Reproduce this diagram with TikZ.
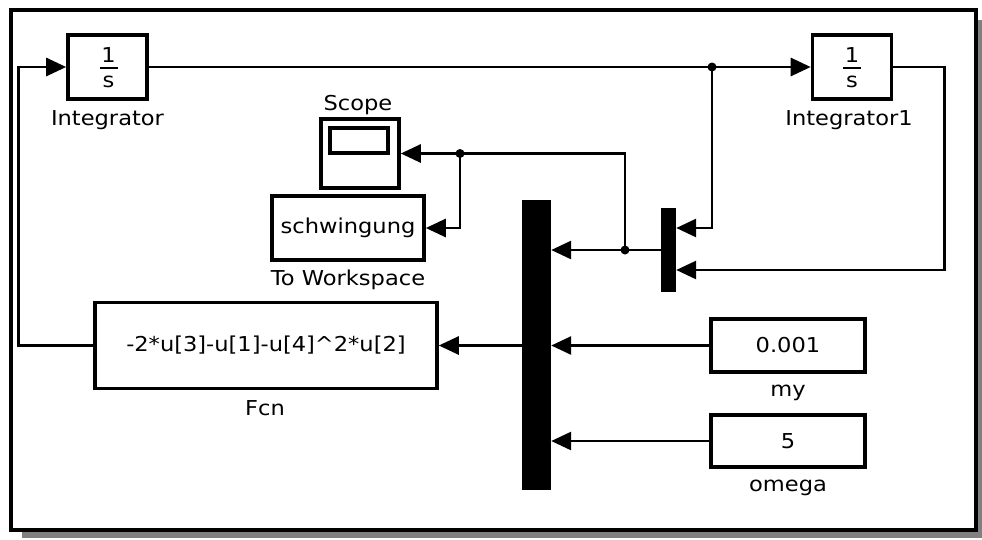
\documentclass[tikz,border=0pt]{standalone}
\usepackage{fontspec}
\setmainfont{DejaVu Sans}[FakeStretch=1.1]
\usetikzlibrary{arrows.meta}
\begin{document}
\begin{tikzpicture}[x=1pt,y=-1pt,
  txt/.style={inner sep=0pt, font=\fontsize{20.5}{24}\selectfont},
  blk/.style={draw, line width=3.6pt, fill=white, inner sep=0pt, font=\fontsize{20.5}{24}\selectfont},
  muxbar/.style={draw=none, fill=black, inner sep=0pt},
  wire/.style={line width=2.8pt, -{Triangle[length=20pt,width=18pt]}},
  plainwire/.style={line width=2.8pt},
  jdot/.style={circle, fill=black, inner sep=0pt, minimum size=9pt},
]
\useasboundingbox (0,0) rectangle (982,539);
% frame with shadow
\fill[black!50] (22,20) rectangle (982,538);
\draw[line width=4pt, fill=white] (11,10) rectangle (975.5,530);

% blocks
\node[blk, minimum width=79pt, minimum height=64pt] (int1) at (107.5,67) {};
\node[txt] (int1num) at (108.5,55) {1};
\node[txt] (int1den) at (108.5,82) {s};
\draw[line width=2.4pt] (99.5,68) -- (117.5,68);
\node[txt] (int1l) at (107.5,120) {Integrator};

\node[blk, minimum width=79pt, minimum height=64pt] (int2) at (852,67) {};
\node[txt] (int2num) at (852,55) {1};
\node[txt] (int2den) at (852,82) {s};
\draw[line width=2.4pt] (843,68) -- (861,68);
\node[txt] (int2l) at (849,120) {Integrator1};

\node[blk, minimum width=78pt, minimum height=69pt] (scope) at (360,153.5) {};
\draw[line width=3.4pt] (330,128) rectangle (388,153);
\node[txt] (scopel) at (358,105) {Scope};

\node[blk, minimum width=152pt, minimum height=64pt] (tows) at (348,228) {schwingung};
\node[txt] (towsl) at (348,280) {To Workspace};

\node[muxbar, minimum width=15pt, minimum height=84pt] (smux) at (668.5,250) {};
\node[muxbar, minimum width=29pt, minimum height=290pt] (bmux) at (536.5,345) {};

\node[blk, minimum width=342pt, minimum height=86pt] (fcn) at (266,345.5) {-2*u[3]-u[1]-u[4]\^{}2*u[2]};
\node[txt] (fcnl) at (265,408) {Fcn};

\node[blk, minimum width=154pt, minimum height=53pt] (my) at (788,345.5) {0.001};
\node[txt] (myl) at (788,393) {my};

\node[blk, minimum width=154pt, minimum height=52pt] (omega) at (788,441) {5};
\node[txt] (omegal) at (788,488) {omega};

% junctions
\node[jdot] (j1) at (712,67) {};
\node[jdot] (j2) at (625,250) {};
\node[jdot] (j3) at (460,153.5) {};

% connectors
\draw[wire] (int1.east) -- (int2.west);
\draw[wire] (j1.center) |- ([yshift=22pt]smux.east);
\draw[wire] (int2.east) -- ++(51,0) |- ([yshift=-20pt]smux.east);
\draw[wire] (smux.west) -- (smux.west -| bmux.east);
\draw[plainwire] (j2.center) |- (j3.center);
\draw[wire] (j3.center) -- (scope.east);
\draw[wire] (j3.center) |- (tows.east);
\draw[wire] (my.west) -- (my.west -| bmux.east);
\draw[wire] (omega.west) -- (omega.west -| bmux.east);
\draw[wire] (bmux.west |- fcn.east) -- (fcn.east);
\draw[wire] (fcn.west) -- ++(-75,0) |- (int1.west);
\end{tikzpicture}
\end{document}
